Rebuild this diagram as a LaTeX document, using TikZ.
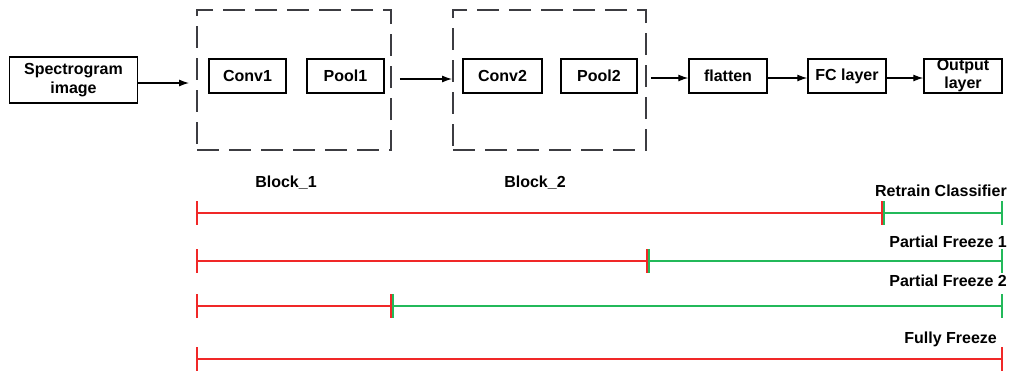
\documentclass[tikz,border=0pt]{standalone}
\usepackage{fontspec}
\setmainfont{Liberation Sans}
\usetikzlibrary{arrows.meta}
\definecolor{fr}{RGB}{240,40,40}
\definecolor{tr}{RGB}{35,185,90}
\definecolor{dg}{RGB}{60,60,65}
\begin{document}
\begin{tikzpicture}[x=1pt,y=-1pt,
  box/.style={draw=black,line width=1.4pt,minimum height=34pt,inner sep=0pt,
    font=\bfseries\fontsize{16}{18}\selectfont,align=center},
  blk/.style={draw=dg,line width=1.9pt,dash pattern=on 22pt off 10pt,inner sep=0pt},
  conn/.style={-{Latex[length=10pt,width=7pt]},line width=1.2pt},
  lbl/.style={font=\bfseries\fontsize{16}{18}\selectfont,inner sep=0pt},
  frz/.style={draw=fr,line width=2.3pt},
  trn/.style={draw=tr,line width=2.3pt},
  tick/.style={line width=1.8pt}]
\useasboundingbox (0,0) rectangle (1013,373);

% main pipeline
\node[box,minimum width=128pt,minimum height=46pt,font=\bfseries\fontsize{16}{19}\selectfont] (spec) at (73.5,80) {Spectrogram\\image};
\node[blk,minimum width=194pt,minimum height=140pt] (b1) at (294,80) {};
\node[blk,minimum width=193pt,minimum height=140pt] (b2) at (549.5,80) {};
\node[box,minimum width=77pt] (conv1) at (247.5,76) {Conv1};
\node[box,minimum width=77pt] (pool1) at (345.5,76) {Pool1};
\node[box,minimum width=79pt] (conv2) at (502.5,76) {Conv2};
\node[box,minimum width=76pt] (pool2) at (599,76) {Pool2};
\node[box,minimum width=78pt] (flat) at (728,76) {flatten};
\node[box,minimum width=78pt] (fc) at (847,76) {FC layer};
\node[box,minimum width=78pt,font=\bfseries\fontsize{16}{18}\selectfont] (out) at (963,76) {Output\\layer};

\draw[conn] ([yshift=-3pt]spec.east) -- ([xshift=-7pt,yshift=-3pt]b1.west);
\draw[conn] ([xshift=8pt,yshift=1pt]b1.east) -- ([yshift=1pt]b2.west);
\draw[conn] ([xshift=4pt,yshift=2pt]b2.east) -- ([yshift=-2pt]flat.west);
\draw[conn] ([yshift=-2pt]flat.east) -- ([yshift=-2pt]fc.west);
\draw[conn] ([yshift=-2pt]fc.east) -- ([yshift=-2pt]out.west);

\node[lbl] (lb1) at (286,183) {Block\_1};
\node[lbl] (lb2) at (535,183) {Block\_2};

% timelines
\coordinate (a1) at (197,213); \coordinate (m1) at (883,213); \coordinate (e1) at (1002,213);
\coordinate (a2) at (197,261); \coordinate (m2) at (648,261); \coordinate (e2) at (1002,261);
\coordinate (a3) at (197,306); \coordinate (m3) at (392,306); \coordinate (e3) at (1002,306);
\coordinate (a4) at (197,359); \coordinate (e4) at (1002,359);

\foreach \i in {1,2,3}{
  \draw[frz] (a\i) -- (m\i);
  \draw[trn] (m\i) -- (e\i);
  \draw[frz,tick] ([yshift=12pt]a\i) -- ([yshift=-12pt]a\i);
  \draw[frz,tick] ([xshift=-0.9pt,yshift=12pt]m\i) -- ([xshift=-0.9pt,yshift=-12pt]m\i);
  \draw[trn,tick] ([xshift=0.9pt,yshift=12pt]m\i) -- ([xshift=0.9pt,yshift=-12pt]m\i);
  \draw[trn,tick] ([yshift=12pt]e\i) -- ([yshift=-12pt]e\i);
}
\draw[frz] (a4) -- (e4);
\draw[frz,tick] ([yshift=12pt]a4) -- ([yshift=-12pt]a4);
\draw[frz,tick] ([yshift=12pt]e4) -- ([yshift=-12pt]e4);

\node[lbl,anchor=east] (t1) at (1007,191) {Retrain Classifier};
\node[lbl,anchor=east] (t2) at (1007,242) {Partial Freeze 1};
\node[lbl,anchor=east] (t3) at (1007,281) {Partial Freeze 2};
\node[lbl,anchor=east] (t4) at (997,339) {Fully Freeze};
\end{tikzpicture}
\end{document}
